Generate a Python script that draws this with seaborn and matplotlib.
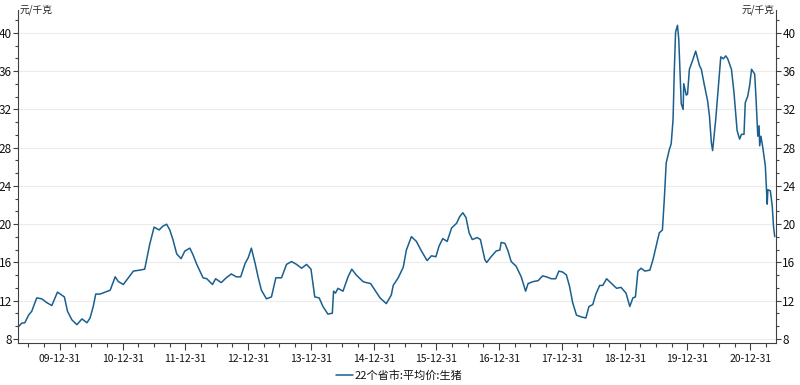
import numpy as np
import pandas as pd
import seaborn as sns
import matplotlib
matplotlib.use("Agg")
from matplotlib import pyplot as plt
import matplotlib.dates as mdates
from matplotlib.ticker import AutoMinorLocator

year_pos = [
    2009.34, 2009.39, 2009.44, 2009.50, 2009.55, 2009.63, 2009.71, 2009.79, 2009.87, 2009.96,
    2010.07, 2010.12, 2010.19, 2010.27, 2010.35, 2010.43, 2010.48, 2010.53, 2010.57, 2010.64,
    2010.72, 2010.80, 2010.88, 2010.93, 2011.01, 2011.09, 2011.17, 2011.27, 2011.35, 2011.43,
    2011.50, 2011.58, 2011.64, 2011.70, 2011.75, 2011.80, 2011.86, 2011.93, 2011.99, 2012.07,
    2012.12, 2012.18, 2012.23, 2012.28, 2012.34, 2012.43, 2012.48, 2012.57, 2012.65, 2012.73,
    2012.81, 2012.88, 2012.95, 2013.00, 2013.05, 2013.11, 2013.16, 2013.21, 2013.29, 2013.37,
    2013.44, 2013.53, 2013.61, 2013.69, 2013.77, 2013.85, 2013.93, 2014.00, 2014.06, 2014.13,
    2014.19, 2014.27, 2014.34, 2014.36, 2014.39, 2014.43, 2014.51, 2014.59, 2014.65, 2014.72,
    2014.83, 2014.88, 2014.95, 2015.02, 2015.10, 2015.20, 2015.28, 2015.31, 2015.39, 2015.47,
    2015.52, 2015.60, 2015.68, 2015.76, 2015.85, 2015.92, 2015.99, 2016.04, 2016.10, 2016.17,
    2016.24, 2016.32, 2016.37, 2016.42, 2016.47, 2016.52, 2016.57, 2016.65, 2016.70, 2016.77,
    2016.80, 2016.87, 2016.95, 2017.01, 2017.03, 2017.09, 2017.14, 2017.19, 2017.27, 2017.35,
    2017.42, 2017.46, 2017.54, 2017.62, 2017.69, 2017.75, 2017.83, 2017.90, 2017.95, 2018.01,
    2018.07, 2018.12, 2018.17, 2018.23, 2018.31, 2018.38, 2018.43, 2018.49, 2018.54, 2018.60,
    2018.65, 2018.71, 2018.79, 2018.87, 2018.94, 2019.02, 2019.08, 2019.13, 2019.17, 2019.21,
    2019.26, 2019.32, 2019.40, 2019.45, 2019.50, 2019.55, 2019.60, 2019.63, 2019.66, 2019.71,
    2019.74, 2019.77, 2019.79, 2019.81, 2019.84, 2019.86, 2019.88, 2019.90, 2019.93, 2019.94,
    2019.98, 2020.00, 2020.03, 2020.08, 2020.13, 2020.15, 2020.19, 2020.22, 2020.27, 2020.32,
    2020.35, 2020.38, 2020.40, 2020.45, 2020.48, 2020.53, 2020.57, 2020.61, 2020.64, 2020.70,
    2020.74, 2020.79, 2020.83, 2020.86, 2020.90, 2020.92, 2020.96, 2020.99, 2021.02, 2021.07,
    2021.09, 2021.12, 2021.14, 2021.15, 2021.17, 2021.20, 2021.24, 2021.27, 2021.28, 2021.32,
    2021.35, 2021.37, 2021.39,
]
price = [
    9.3, 9.65, 9.7, 10.5, 10.9, 12.3, 12.2, 11.8, 11.5, 12.9,
    12.4, 10.9, 10.0, 9.5, 10.1, 9.7, 10.2, 11.4, 12.7, 12.7,
    12.9, 13.1, 14.5, 14.0, 13.7, 14.4, 15.1, 15.2, 15.3, 17.9,
    19.7, 19.4, 19.8, 20.0, 19.4, 18.4, 16.9, 16.4, 17.2, 17.5,
    16.8, 15.8, 15.1, 14.4, 14.3, 13.7, 14.3, 13.9, 14.4, 14.8,
    14.5, 14.5, 15.9, 16.5, 17.5, 15.9, 14.4, 13.1, 12.2, 12.4,
    14.4, 14.4, 15.8, 16.1, 15.8, 15.4, 15.8, 15.3, 12.4, 12.3,
    11.4, 10.6, 10.7, 13.0, 12.8, 13.3, 13.0, 14.5, 15.3, 14.7,
    14.0, 13.9, 13.8, 13.1, 12.3, 11.7, 12.6, 13.6, 14.4, 15.5,
    17.3, 18.7, 18.2, 17.2, 16.2, 16.7, 16.6, 17.7, 18.5, 18.2,
    19.6, 20.1, 20.8, 21.2, 20.7, 19.1, 18.4, 18.6, 18.4, 16.3,
    16.0, 16.6, 17.2, 17.3, 18.1, 18.0, 17.2, 16.1, 15.6, 14.5,
    13.0, 13.8, 14.0, 14.1, 14.6, 14.5, 14.3, 14.3, 15.1, 15.0,
    14.7, 13.5, 11.8, 10.5, 10.3, 10.2, 11.4, 11.6, 12.7, 13.6,
    13.6, 14.3, 13.8, 13.3, 13.4, 12.8, 11.4, 12.3, 12.4, 15.1,
    15.4, 15.1, 15.2, 16.3, 17.7, 19.1, 19.4, 22.6, 26.4, 27.8,
    28.4, 31.0, 36.2, 40.1, 40.8, 39.4, 35.9, 32.6, 32.0, 34.7,
    33.5, 33.6, 36.2, 37.1, 38.1, 37.6, 36.6, 36.2, 34.5, 32.9,
    31.3, 28.5, 27.7, 31.0, 33.4, 37.5, 37.3, 37.6, 37.3, 36.2,
    33.8, 29.8, 28.9, 29.4, 29.4, 32.7, 33.4, 34.5, 36.2, 35.7,
    33.4, 29.2, 30.3, 28.2, 29.2, 28.0, 26.1, 22.1, 23.6, 23.5,
    21.9, 19.8, 18.7,
]
series_name = "22个省市:平均价:生猪"
unit = "元/千克"
y_ticks = [8, 12, 16, 20, 24, 28, 32, 36, 40]
tick_years = list(range(2009, 2021))

line_color = "#1a5f8e"
font_list = ["Noto Sans CJK SC", "DejaVu Sans"]

sns.set_style("white")
plt.rcParams["font.family"] = font_list

base = pd.Timestamp("2009-12-31")
dates = base + pd.to_timedelta((np.array(year_pos) - 2010.0) * 365.25, unit="D")
df = pd.DataFrame({"date": dates, "price": price})

fig = plt.figure(figsize=(8, 3.85), dpi=100)
ax = fig.add_axes([18.3 / 800, 1 - 343.3 / 385, (776 - 18.3) / 800, (343.3 - 10) / 385])

sns.lineplot(data=df, x="date", y="price", ax=ax, color=line_color,
             linewidth=1.1, label=series_name, legend=False)

ax.set_xlim(base + pd.Timedelta(days=-0.664 * 365.25), base + pd.Timedelta(days=11.41 * 365.25))
ax.set_ylim(7.55, 42.4)
ax.set_xlabel("")
ax.set_ylabel("")

ax.set_xticks([pd.Timestamp(f"{y}-12-31") for y in tick_years])
ax.xaxis.set_major_formatter(mdates.DateFormatter("%y-%m-%d"))
ax.xaxis.set_minor_locator(mdates.MonthLocator(bymonth=[3, 6, 9], bymonthday=30))
ax.set_yticks(y_ticks)
ax.yaxis.set_minor_locator(AutoMinorLocator(3))

ax.yaxis.grid(True, color="#ececec", linewidth=0.8)
ax.xaxis.grid(False)
ax.set_axisbelow(True)

for side in ["left", "right", "bottom"]:
    ax.spines[side].set_color("#404040")
    ax.spines[side].set_linewidth(0.8)
ax.spines["top"].set_visible(False)

ax.tick_params(axis="y", which="both", left=True, right=True, labelleft=True,
               labelright=True, direction="out", color="#404040", width=0.8)
ax.tick_params(axis="y", which="major", length=3.5, pad=1, labelsize=8.5, labelcolor="#111111")
ax.tick_params(axis="y", which="minor", length=2.5)
ax.tick_params(axis="x", which="both", bottom=True, direction="out", color="#404040", width=0.8)
ax.tick_params(axis="x", which="major", length=5, pad=2.5, labelsize=7.5, labelcolor="#111111")
ax.tick_params(axis="x", which="minor", length=3)

fig.text(20 / 800, 1 - 10 / 385, unit, fontsize=7, ha="left", va="center", color="#222222")
fig.text(775 / 800, 1 - 10 / 385, unit, fontsize=7, ha="right", va="center", color="#222222")

handles, labels = ax.get_legend_handles_labels()
fig.legend(handles, labels, loc="center", bbox_to_anchor=(399 / 800, 1 - 376 / 385),
           frameon=False, fontsize=8, handlelength=1.6, handletextpad=0.1,
           labelcolor="#111111")

fig.savefig("out.png", dpi=100)
